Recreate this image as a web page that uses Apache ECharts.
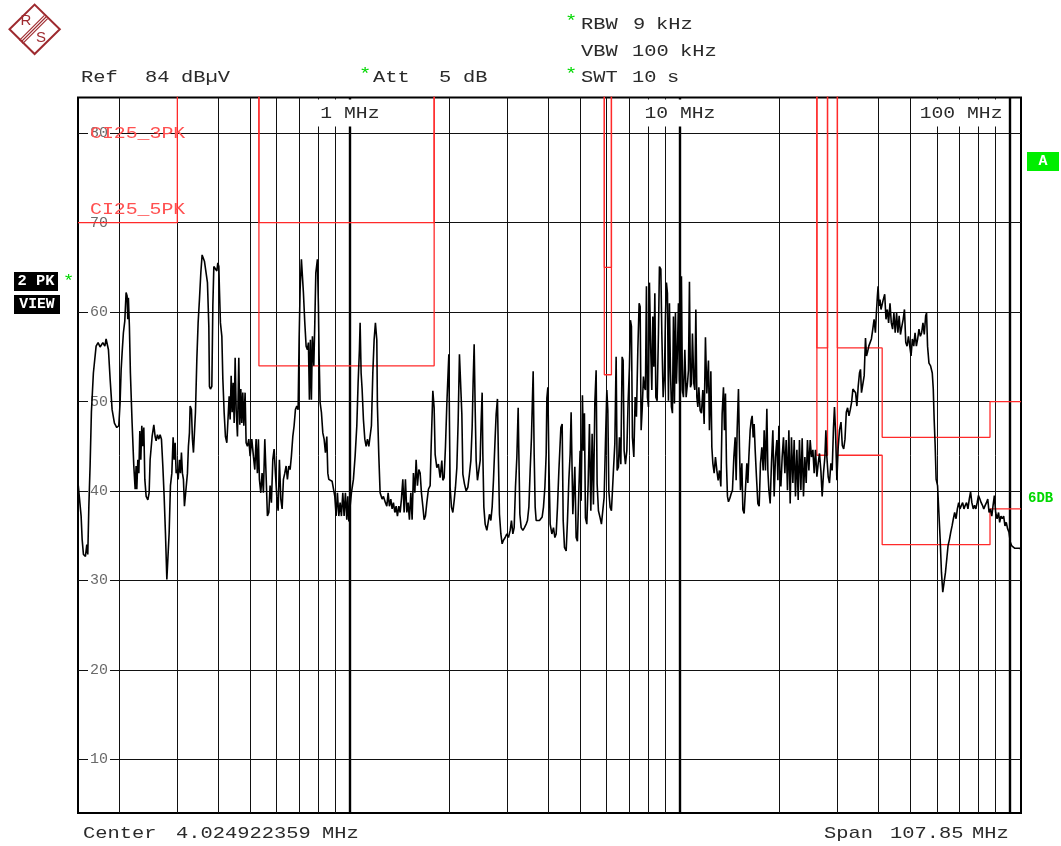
<!DOCTYPE html>
<html><head><meta charset="utf-8">
<script src="https://cdn.jsdelivr.net/npm/echarts@6/dist/echarts.min.js"></script>
<style>html,body{margin:0;padding:0;background:#fff}#c{width:1061px;height:846px}</style>
</head><body><div id="c"></div>
<script>
// ---- DATA: [frequency MHz, level dBuV] ----
const TRACE_150K_500K = [
[0.1503,40.6],[0.1515,40.4],[0.1533,37.2],[0.1544,34.6],[0.1558,32.9],[0.1580,32.7],[0.1595,34.0],[0.1606,32.9],[0.1618,38.3],[0.1632,42.8],
[0.1647,48.8],[0.1670,53.2],[0.1702,56.2],[0.1726,56.6],[0.1750,56.1],[0.1784,56.6],[0.1809,56.2],[0.1825,57.0],[0.1842,57.0],[0.1855,55.8],
[0.1877,52.5],[0.1903,49.1],[0.1934,47.6],[0.1966,47.1],[0.1994,47.3],[0.2012,49.9],[0.2027,53.6],[0.2041,55.5],[0.2059,57.7],[0.2079,59.0],
[0.2098,62.2],[0.2113,61.8],[0.2123,59.2],[0.2132,61.6],[0.2147,58.4],[0.2162,53.2],[0.2188,47.6],[0.2214,42.8],[0.2235,40.2],[0.2250,42.8],
[0.2261,40.2],[0.2277,43.5],[0.2293,42.0],[0.2309,46.7],[0.2325,43.5],[0.2341,47.3],[0.2358,45.0],[0.2374,47.1],[0.2391,41.3],[0.2413,39.4],
[0.2442,39.0],[0.2464,39.8],[0.2481,43.5],[0.2516,46.1],[0.2546,47.4],[0.2569,46.1],[0.2587,45.6],[0.2611,46.3],[0.2636,45.8],[0.2660,46.3],
[0.2685,45.8],[0.2711,42.8],[0.2736,39.4],[0.2761,35.3],[0.2788,30.1],[0.2813,30.1],[0.2833,35.3],[0.2859,40.6],[0.2887,42.0],[0.2913,46.0],
[0.2933,43.5],[0.2954,45.4],[0.2975,42.0],[0.2995,42.4],[0.3017,41.3],[0.3044,43.5],[0.3065,42.0],[0.3087,44.3],[0.3108,42.0],[0.3130,41.3],
[0.3152,38.3],[0.3190,38.3],[0.3219,42.0],[0.3241,45.0],[0.3264,46.5],[0.3280,49.5],[0.3310,49.1],[0.3333,45.8],[0.3357,44.3],[0.3389,44.3],
[0.3404,48.8],[0.3437,54.7],[0.3468,58.8],[0.3500,61.4],[0.3534,64.4],[0.3566,66.4],[0.3599,66.6],[0.3624,65.7],[0.3667,65.6],[0.3701,63.3],
[0.3737,58.4],[0.3753,51.7],[0.3779,51.4],[0.3816,51.7],[0.3843,60.7],[0.3870,65.1],[0.3913,64.9],[0.3952,64.6],[0.3979,65.5],[0.4007,65.1],
[0.4024,62.5],[0.4052,58.8],[0.4092,57.3],[0.4121,52.5],[0.4158,48.8],[0.4196,46.1],[0.4237,45.4],[0.4276,45.4],[0.4306,50.6],[0.4336,48.0],
[0.4367,52.9],[0.4397,48.8],[0.4428,52.1],[0.4459,47.6],[0.4490,54.9],[0.4522,49.1],[0.4563,46.1],[0.4606,54.9],[0.4638,47.4],[0.4671,51.4],
[0.4703,47.6],[0.4736,51.0],[0.4770,47.3],[0.4813,51.0],[0.4847,45.4],[0.4891,45.0],[0.4939,45.8],[0.4984,43.9]
];
const TRACE_500K_1M75 = [
[0.5043,45.8],[0.5100,43.9],[0.5150,42.4],[0.5197,45.8],[0.5244,42.0],[0.5281,45.8],[0.5318,41.3],[0.5370,39.8],[0.5419,42.0],[0.5469,39.8],
[0.5522,45.8],[0.5573,41.7],[0.5624,37.2],[0.5679,37.6],[0.5730,40.6],[0.5783,38.7],[0.5839,43.5],[0.5893,44.7],[0.5946,42.0],[0.6004,39.4],
[0.6060,37.8],[0.6115,43.5],[0.6175,39.1],[0.6231,38.0],[0.6288,41.3],[0.6349,42.0],[0.6407,42.8],[0.6466,41.3],[0.6529,42.8],[0.6589,42.4],
[0.6648,43.9],[0.6714,46.1],[0.6775,47.3],[0.6837,49.1],[0.6904,49.5],[0.6967,49.1],[0.7016,57.0],[0.7065,62.5],[0.7129,65.9],[0.7199,65.9],
[0.7229,62.2],[0.7300,58.8],[0.7367,56.2],[0.7434,55.8],[0.7486,56.6],[0.7538,50.2],[0.7591,56.9],[0.7644,50.2],[0.7698,57.3],[0.7773,54.0],
[0.7828,58.8],[0.7883,64.4],[0.7971,65.9],[0.8027,60.7],[0.8066,55.1],[0.8123,49.9],[0.8197,48.8],[0.8277,46.5],[0.8353,45.8],[0.8429,44.3],
[0.8511,46.1],[0.8571,42.0],[0.8631,41.3],[0.8728,41.3],[0.8831,41.1],[0.8913,40.9],[0.9000,39.4],[0.9082,37.2],[0.9165,39.8],[0.9255,37.2],
[0.9339,38.7],[0.9424,37.2],[0.9516,39.8],[0.9603,37.2],[0.9691,39.8],[0.9786,36.8],[0.9854,39.4],[0.9924,36.6],[1.0014,38.3],[1.0105,39.8],
[1.0247,41.3],[1.0370,43.9],[1.0493,47.3],[1.0589,52.1],[1.0686,55.8],[1.0738,58.8],[1.0813,53.2],[1.0888,51.4],[1.0988,48.0],[1.1096,45.8],
[1.1197,45.0],[1.1300,45.8],[1.1410,45.0],[1.1514,45.0],[1.1619,47.3],[1.1733,53.2],[1.1840,56.9],[1.1948,58.8],[1.2064,56.9],[1.2116,49.5],
[1.2235,43.9],[1.2346,39.8],[1.2519,39.1],[1.2634,39.4],[1.2812,38.7],[1.2937,38.3],[1.3055,39.8],[1.3174,38.3],[1.3303,39.1],[1.3424,38.0],
[1.3548,38.7],[1.3680,37.6],[1.3805,38.3],[1.3931,37.2],[1.4068,38.3],[1.4196,37.6],[1.4325,39.1],[1.4465,41.3],[1.4597,37.6],[1.4730,41.3],
[1.4874,37.6],[1.5012,38.7],[1.5148,36.8],[1.5297,39.8],[1.5435,36.8],[1.5576,42.0],[1.5729,39.8],[1.5872,43.5],[1.6017,40.6],[1.6175,42.4],
[1.6323,42.0],[1.6471,39.8],[1.6633,38.3],[1.6784,36.8],[1.6937,37.2],[1.7102,38.7],[1.7296,40.2],[1.7502,40.6]
];
const TRACE_1M75_4M7 = [
[1.7625,44.9],[1.7835,51.2],[1.7997,49.3],[1.8123,44.1],[1.8339,42.6],[1.8546,43.0],[1.8767,41.5],[1.8990,43.4],[1.9123,41.2],[1.9298,41.5],
[1.9474,44.9],[1.9664,49.7],[1.9846,53.4],[1.9943,55.3],[2.0026,47.8],[2.0124,40.4],[2.0307,38.2],[2.0506,37.6],[2.0693,38.9],[2.0882,40.4],
[2.1086,42.6],[2.1280,47.8],[2.1473,55.3],[2.1684,55.5],[2.1835,48.6],[2.1988,41.9],[2.2236,40.8],[2.2502,40.0],[2.2769,40.4],[2.3025,41.9],
[2.3252,43.4],[2.3462,47.1],[2.3629,52.3],[2.3794,56.4],[2.3961,49.3],[2.4128,43.4],[2.4348,41.2],[2.4587,41.2],[2.4810,43.4],[2.4984,47.8],
[2.5158,51.0],[2.5281,44.1],[2.5460,38.2],[2.5692,36.3],[2.5997,35.6],[2.6236,35.6],[2.6474,37.4],[2.6734,36.7],[2.6976,38.2],[2.7224,41.2],
[2.7549,46.0],[2.7741,48.6],[2.7994,50.3],[2.8191,43.4],[2.8388,37.4],[2.8666,35.2],[2.8926,34.1],[2.9191,34.5],[2.9539,34.8],[2.9890,35.2],
[3.0229,34.8],[3.0589,35.6],[3.0867,36.7],[3.1169,35.2],[3.1455,35.9],[3.1742,40.4],[3.2052,43.8],[3.2346,49.3],[3.2504,44.1],[3.2731,37.4],
[3.3029,35.9],[3.3422,35.6],[3.3799,35.9],[3.4202,36.3],[3.4514,36.7],[3.4853,38.2],[3.5170,42.3],[3.5490,46.0],[3.5739,50.4],[3.5915,53.4],
[3.6165,44.1],[3.6419,38.2],[3.6673,36.7],[3.7110,36.5],[3.7529,36.7],[3.7897,36.7],[3.8240,37.1],[3.8592,38.2],[3.8970,40.4],[3.9325,44.1],
[3.9516,50.4],[3.9793,51.6],[4.0073,43.4],[4.0439,36.3],[4.0919,35.2],[4.1381,35.9],[4.1787,34.8],[4.2167,35.2],[4.2552,38.2],[4.2970,42.3],
[4.3574,47.1],[4.3968,47.5],[4.4280,36.7],[4.4682,33.7],[4.5215,33.3],[4.5627,36.7],[4.6061,41.2],[4.6481,44.1],[4.6806,48.8]
];
const TRACE_4M7_12M = [
[4.7363,37.4],[4.8030,42.7],[4.8468,34.8],[4.8910,34.4],[4.9390,40.0],[4.9840,44.5],[5.0188,38.9],[5.0646,50.7],[5.1002,44.5],[5.1357,48.7],
[5.1717,37.0],[5.2222,36.3],[5.2703,40.8],[5.3181,47.5],[5.3703,37.8],[5.4189,46.4],[5.4688,38.5],[5.5223,49.8],[5.5726,53.5],[5.6113,40.8],
[5.6630,37.8],[5.7304,37.0],[5.7825,36.3],[5.8391,36.1],[5.8926,39.3],[5.9463,45.3],[6.0044,51.3],[6.0465,49.0],[6.0891,40.0],[6.1446,38.2],
[6.2004,37.8],[6.2440,40.0],[6.2878,42.3],[6.3494,45.3],[6.4072,55.0],[6.4516,42.3],[6.5109,42.7],[6.5564,46.0],[6.6208,43.0],[6.6806,55.0],
[6.7281,54.6],[6.7750,44.5],[6.8367,43.0],[6.9035,44.5],[6.9670,50.1],[7.0302,53.9],[7.0795,59.1],[7.1289,58.4],[7.1790,46.0],[7.2495,43.8],
[7.3155,50.5],[7.3820,48.3],[7.4543,55.8],[7.5226,61.0],[7.5753,60.6],[7.6282,46.8],[7.6812,49.0],[7.7519,52.8],[7.8060,51.6],[7.8607,51.3],
[7.9156,62.9],[7.9712,50.5],[8.0270,49.4],[8.0830,63.3],[8.1624,55.4],[8.2192,51.3],[8.2768,59.5],[8.3351,53.9],[8.3934,62.1],[8.4522,50.5],
[8.5286,50.1],[8.6071,57.6],[8.6672,65.1],[8.7523,64.8],[8.8132,57.6],[8.8942,50.5],[8.9749,52.8],[9.0378,59.5],[9.1009,63.3],[9.1648,62.1],
[9.2291,50.1],[9.2935,61.0],[9.3586,53.5],[9.4239,49.4],[9.4901,48.7],[9.5567,59.5],[9.6234,49.8],[9.6909,59.9],[9.7585,52.0],[9.8271,55.8],
[9.8961,61.0],[9.9651,52.4],[10.035,50.9],[10.105,64.0],[10.176,51.3],[10.247,50.5],[10.348,55.8],[10.442,50.5],[10.537,52.0],[10.612,53.5],
[10.686,63.4],[10.761,51.6],[10.836,52.0],[10.912,57.6],[11.019,52.0],[11.096,51.3],[11.174,60.3],[11.252,50.5],[11.331,49.4],[11.410,51.6],
[11.514,49.0],[11.619,48.7],[11.733,51.3],[11.840,47.5],[11.948,57.2],[12.064,50.9]
];
const TRACE_12M_30M = [
[12.201,54.6],[12.286,46.8],[12.407,53.4],[12.493,44.9],[12.581,43.1],[12.696,42.0],[12.812,43.8],[12.937,42.3],[13.055,41.2],[13.174,42.3],
[13.303,40.5],[13.424,48.6],[13.548,51.6],[13.642,46.8],[13.738,50.9],[13.834,43.1],[13.931,39.4],[14.029,38.8],[14.166,39.2],[14.295,39.7],
[14.426,40.1],[14.567,43.8],[14.700,46.0],[14.802,41.2],[14.905,46.8],[15.043,51.4],[15.148,44.9],[15.254,40.1],[15.403,43.1],[15.511,37.9],
[15.652,37.5],[15.795,37.5],[15.949,43.1],[16.061,40.9],[16.175,43.8],[16.323,46.8],[16.437,47.9],[16.551,48.4],[16.668,46.0],[16.784,47.5],
[16.902,44.6],[17.055,41.6],[17.222,38.6],[17.381,38.3],[17.539,43.1],[17.710,44.9],[17.873,42.3],[17.997,46.8],[18.161,42.3],[18.339,49.2],
[18.467,42.3],[18.598,40.1],[18.767,38.6],[18.938,43.1],[19.123,46.8],[19.298,39.4],[19.474,43.8],[19.664,45.7],[19.802,41.2],[19.943,47.3],
[20.082,42.3],[20.223,40.5],[20.406,43.8],[20.593,46.0],[20.794,42.0],[20.984,45.7],[21.175,40.1],[21.383,46.8],[21.578,38.6],[21.774,46.0],
[21.988,40.9],[22.190,45.7],[22.392,39.4],[22.611,44.6],[22.818,39.0],[23.025,45.7],[23.252,40.1],[23.462,45.9],[23.678,39.4],[23.910,43.8],
[24.128,40.9],[24.348,45.7],[24.587,42.3],[24.810,45.7],[25.036,43.8],[25.281,44.6],[25.513,42.0],[25.746,44.6],[25.997,41.6],[26.236,43.1],
[26.474,44.2],[26.734,42.3],[26.976,39.4],[27.224,42.0],[27.491,43.8],[27.683,46.8],[27.876,43.8],[28.132,41.6],[28.388,40.9],[28.666,43.1],
[28.926,42.3],[29.191,47.1],[29.395,49.4],[29.601,46.8],[29.890,41.2],[30.166,44.9],[30.439,46.8]
];
const TRACE_30M_108M = [
[30.76,47.7],[31.04,45.1],[31.343,44.7],[31.631,45.8],[31.919,48.8],[32.21,49.3],[32.526,48.4],[32.823,49.1],[33.121,49.9],[33.422,51.4],
[33.728,51.4],[34.06,51.0],[34.368,49.5],[34.683,51.7],[34.998,53.2],[35.244,53.6],[35.49,51.0],[35.813,51.0],[36.165,52.9],[36.495,57.1],
[36.75,55.1],[37.008,55.5],[37.346,56.2],[37.686,56.2],[38.029,57.0],[38.402,58.1],[38.753,59.2],[39.106,57.7],[39.379,59.9],[39.656,61.8],
[39.849,62.9],[40.101,60.7],[40.382,61.4],[40.665,60.3],[40.95,60.5],[41.307,61.4],[41.728,62.0],[42.109,59.2],[42.494,60.3],[42.881,58.8],
[43.301,61.0],[43.695,58.8],[44.093,58.1],[44.495,59.9],[44.9,57.7],[45.34,59.9],[45.753,57.7],[46.158,59.6],[46.578,57.5],[47.033,58.4],
[47.466,59.2],[47.896,60.3],[48.333,56.6],[48.775,56.2],[49.253,57.3],[49.7,56.2],[50.153,55.1],[50.611,57.0],[51.107,56.2],[51.573,57.7],
[52.042,56.2],[52.516,57.0],[52.996,58.1],[53.516,57.3],[54.002,57.7],[54.494,58.8],[54.993,57.5],[55.533,59.6],[55.881,59.9],[56.273,56.2],
[56.826,54.3],[57.464,54.0],[58.151,53.2],[58.559,51.4],[58.926,48.0],[59.339,45.1],[59.746,41.3],[60.341,40.6],[60.891,37.6],[61.446,34.6],
[62.004,30.9],[62.569,28.7],[63.184,28.5],[63.76,30.9],[64.345,32.4],[64.923,33.9],[65.564,34.6],[66.161,35.4],[66.767,36.1],[67.374,36.9],
[67.986,37.6],[68.654,36.9],[69.28,38.0],[69.913,38.7],[70.548,38.0],[71.239,38.4],[71.888,38.7],[72.545,38.0],[73.206,38.4],[73.871,38.7],
[74.595,38.0],[75.278,39.1],[75.965,39.9],[76.653,38.7],[77.412,38.0],[78.114,38.4],[78.828,38.0],[79.547,38.7],[80.27,39.5],[81.056,39.1],
[81.794,38.7],[82.541,38.4],[83.294,38.0],[84.111,38.4],[84.875,38.7],[85.648,39.1],[86.43,37.6],[87.219,38.0],[88.071,37.2],[88.881,38.4],
[89.686,39.5],[90.504,37.6],[91.396,36.9],[92.355,37.6],[93.064,36.5],[93.913,37.2],[94.771,36.9],[95.691,37.2],[96.571,36.1],[97.45,36.5],
[98.338,35.8],[99.305,35.4],[100.21,34.3],[101.12,33.9],[102.33,33.7],[103.48,33.6],[104.94,33.6],[106.98,33.6],[107.9,33.5]
];

// Limit lines (CISPR 25 class 3 / class 5 peak); OFF_SCALE marks band gaps drawn off the top of the screen
const OFF_SCALE = 100;
const LIMIT_3PK_FREQ  = [0.15,0.3,0.3,0.53,0.53,1.8,1.8,5.9,5.9,6.2,6.2,26,26,28,28,30,30,41,41,87,87,108];
const LIMIT_3PK_LEVEL = [90,90,OFF_SCALE,OFF_SCALE,70,70,OFF_SCALE,OFF_SCALE,65,65,OFF_SCALE,OFF_SCALE,56,56,OFF_SCALE,OFF_SCALE,56,56,46,46,50,50];
const LIMIT_5PK_FREQ  = [0.15,0.3,0.3,0.53,0.53,1.8,1.8,5.9,5.9,6.2,6.2,26,26,28,28,30,30,41,41,87,87,108];
const LIMIT_5PK_LEVEL = [70,70,OFF_SCALE,OFF_SCALE,54,54,OFF_SCALE,OFF_SCALE,53,53,OFF_SCALE,OFF_SCALE,44,44,OFF_SCALE,OFF_SCALE,44,44,34,34,38,38];

// Axes
const FREQ_MIN = 0.15, FREQ_MAX = 108;
const LEVEL_MIN = 4, LEVEL_MAX = 84;
const Y_TICKS = [10,20,30,40,50,60,70,80];
const X_GRID_MINOR = [0.2,0.3,0.4,0.5,0.6,0.7,0.8,0.9,2,3,4,5,6,7,8,9,20,30,40,50,60,70,80,90];
const X_GRID_DECADE = [1,10,100];
const X_DECADE_LABELS = ['1 MHz','10 MHz','100 MHz'];

// ---- CHART ----
const MONO = "'Liberation Mono','DejaVu Sans Mono',monospace";
const chart = echarts.init(document.getElementById('c'), null, {renderer:'canvas'});
const zipLimit = (f, l) => f.map((v, i) => [v, l[i]]);
const trace = [].concat(TRACE_150K_500K, TRACE_500K_1M75, TRACE_1M75_4M7, TRACE_4M7_12M, TRACE_12M_30M, TRACE_30M_108M);

const gridMarks = []
  .concat(X_GRID_MINOR.map(v => ({xAxis: v, lineStyle: {width: 1, color: '#111'}})))
  .concat(X_GRID_DECADE.map(v => ({xAxis: v, lineStyle: {width: 2.4, color: '#000'}})))
  .concat(Y_TICKS.map(v => ({yAxis: v, lineStyle: {width: 1, color: '#111'}})));

const GRID = {left: 78, top: 97.5, width: 943, height: 715.5};

chart.setOption({
  animation: false,
  backgroundColor: '#fff',
  grid: Object.assign({show: true, borderColor: '#000', borderWidth: 2, backgroundColor: 'transparent'}, GRID),
  xAxis: {
    type: 'log', logBase: 10, min: FREQ_MIN, max: FREQ_MAX,
    axisLine: {show: false}, axisTick: {show: false}, axisLabel: {show: false}, splitLine: {show: false}
  },
  yAxis: {
    type: 'value', min: LEVEL_MIN, max: LEVEL_MAX, z: 3,
    axisLine: {show: false}, axisTick: {show: false}, splitLine: {show: false},
    axisLabel: {
      inside: true, margin: 10, customValues: Y_TICKS,
      color: '#6a6a6a', fontFamily: MONO, fontSize: 15,
      backgroundColor: '#fff', padding: [1, 2]
    }
  },
  series: [
    {
      type: 'line', data: [], z: 1, silent: true,
      markLine: {z: 1, silent: true, symbol: 'none', animation: false, label: {show: false},
        lineStyle: {type: 'solid'}, emphasis: {disabled: true}, data: gridMarks}
    },
    {
      name: 'CI25_3PK', type: 'line', z: 4, silent: true, clip: true, symbol: 'none',
      data: zipLimit(LIMIT_3PK_FREQ, LIMIT_3PK_LEVEL),
      lineStyle: {color: '#ff2a2a', width: 1.3}
    },
    {
      name: 'CI25_5PK', type: 'line', z: 4, silent: true, clip: true, symbol: 'none',
      data: zipLimit(LIMIT_5PK_FREQ, LIMIT_5PK_LEVEL),
      lineStyle: {color: '#ff2a2a', width: 1.3}
    },
    {
      name: 'trace', type: 'line', z: 5, silent: true, clip: true, symbol: 'none', showSymbol: false,
      data: trace, lineStyle: {color: '#000', width: 1.6}
    }
  ]
});

// ---- TEXT / ANNOTATIONS ----
function txt(x, y, s, o) {
  o = o || {};
  return {
    type: 'text', x: x, y: y, z: 20, silent: true,
    scaleX: o.sx || 1, originX: 0, originY: 0,
    style: {
      text: s, fill: o.color || '#2a2a2a',
      font: (o.bold ? 'bold ' : '') + (o.size || 17) + 'px ' + (o.family || MONO),
      align: o.align || 'left', verticalAlign: 'middle',
      textAlign: o.align || 'left', textVerticalAlign: 'middle',
      backgroundColor: o.bg, padding: o.pad
    }
  };
}
const G = '#00d800';
const SX = 1.2;
const els = [];
// header
els.push(txt(81, 77, 'Ref', {sx: SX}), txt(145, 77, '84', {sx: SX}), txt(181, 77, 'dBµV', {sx: SX}));
els.push(txt(359, 74, '*', {color: G, sx: SX}), txt(373, 77, 'Att', {sx: SX}), txt(439, 77, '5', {sx: SX}), txt(463, 77, 'dB', {sx: SX}));
els.push(txt(565, 21, '*', {color: G, sx: SX}), txt(581, 24, 'RBW', {sx: SX}), txt(633, 24, '9', {sx: SX}), txt(656, 24, 'kHz', {sx: SX}));
els.push(txt(581, 51, 'VBW', {sx: SX}), txt(632, 51, '100', {sx: SX}), txt(680, 51, 'kHz', {sx: SX}));
els.push(txt(565, 74, '*', {color: G, sx: SX}), txt(581, 77, 'SWT', {sx: SX}), txt(632, 77, '10', {sx: SX}), txt(667, 77, 's', {sx: SX}));
// footer
els.push(txt(83, 833, 'Center', {sx: SX}), txt(176, 833, '4.024922359', {sx: SX}), txt(322, 833, 'MHz', {sx: SX}));
els.push(txt(824, 833, 'Span', {sx: SX}), txt(890, 833, '107.85', {sx: SX}), txt(972, 833, 'MHz', {sx: SX}));
// limit line names
els.push(txt(90, 134, 'CI25_3PK', {color: '#ff5050', size: 16, sx: 1.24}));
els.push(txt(90, 210, 'CI25_5PK', {color: '#ff5050', size: 16, sx: 1.24}));
// decade labels at the top of the screen
const gridRight = GRID.left + GRID.width;
X_GRID_DECADE.forEach((f, i) => {
  const px = chart.convertToPixel({xAxisIndex: 0}, f);
  const last = i === X_GRID_DECADE.length - 1;
  els.push(txt(last ? gridRight - 15 : px, 113, X_DECADE_LABELS[i],
    {align: last ? 'right' : 'center', sx: 1.16, bg: '#fff', pad: [5, 3, 5, 3]}));
});
// status boxes
els.push({type: 'rect', z: 20, shape: {x: 14, y: 272, width: 44, height: 19}, style: {fill: '#000'}});
els.push(txt(36, 281.5, '2 PK', {color: '#fff', bold: true, size: 14, align: 'center', sx: 1.1}));
els.push(txt(63, 281, '*', {color: G, sx: 1.1}));
els.push({type: 'rect', z: 20, shape: {x: 14, y: 295, width: 46, height: 19}, style: {fill: '#000'}});
els.push(txt(37, 304.5, 'VIEW', {color: '#fff', bold: true, size: 14, align: 'center', sx: 1.05}));
els.push({type: 'rect', z: 20, shape: {x: 1027, y: 152, width: 32, height: 19}, style: {fill: '#00ee00'}});
els.push(txt(1043, 161.5, 'A', {color: '#fff', bold: true, size: 15, align: 'center'}));
els.push(txt(1028, 498, '6DB', {color: G, bold: true, size: 14}));
// R&S logo
const LOGO = '#9e2a2f';
els.push({type: 'polygon', z: 20, shape: {points: [[9.5, 29.3], [34.6, 4.6], [59.8, 29.3], [34.6, 54]]},
  style: {fill: 'none', stroke: LOGO, lineWidth: 2}});
[-1.6, 0, 1.6].forEach(d => {
  els.push({type: 'line', z: 20, shape: {x1: 21 + d, y1: 42 + d, x2: 46 + d, y2: 17 + d}, style: {stroke: LOGO, lineWidth: 1.1}});
});
els.push(txt(26, 21, 'R', {color: LOGO, size: 15, family: "'Liberation Sans',sans-serif", align: 'center'}));
els.push(txt(41, 37.5, 'S', {color: LOGO, size: 15, family: "'Liberation Sans',sans-serif", align: 'center'}));

chart.setOption({graphic: {elements: els}});
</script>
</body></html>
